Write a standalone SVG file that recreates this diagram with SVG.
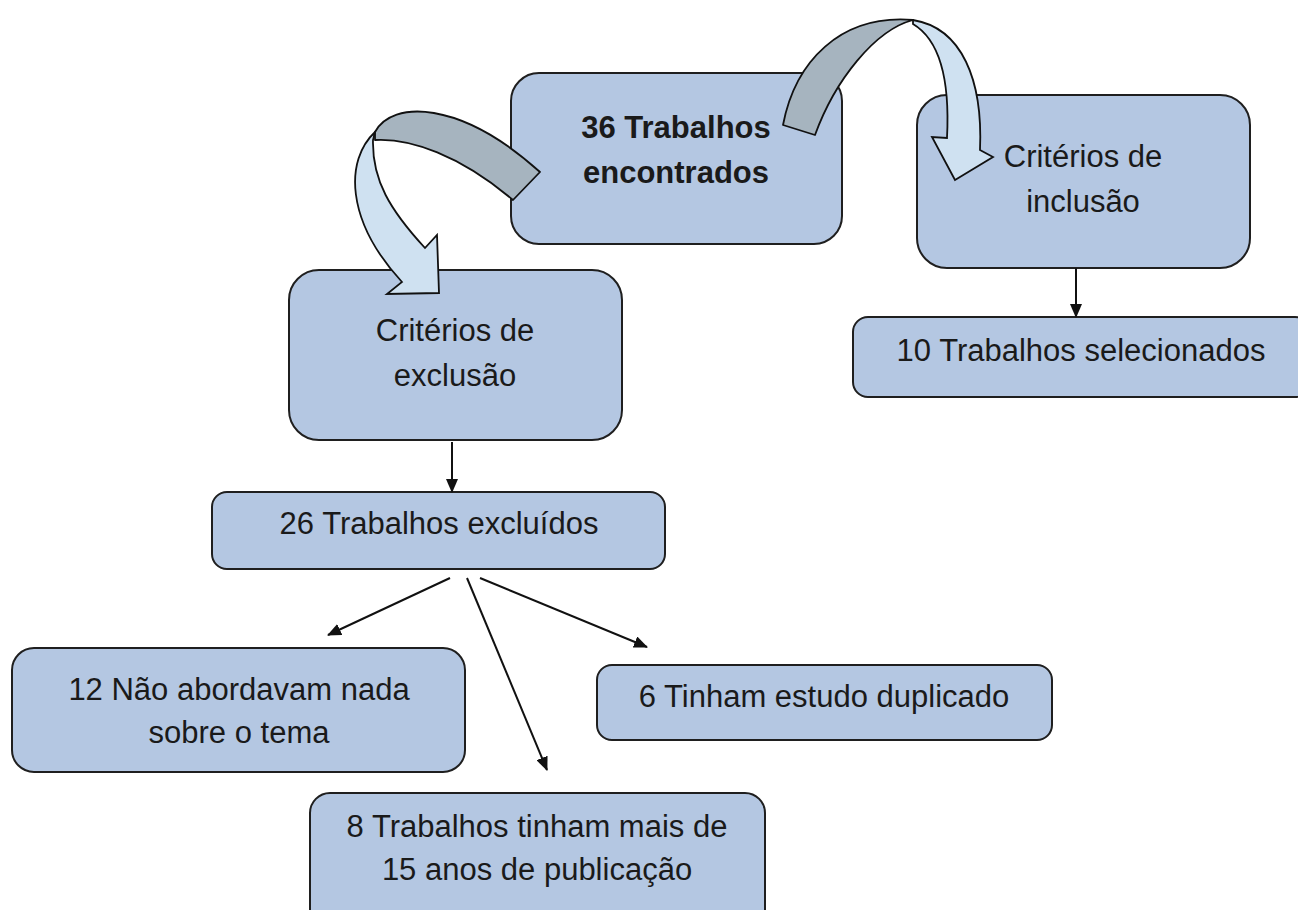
<svg xmlns="http://www.w3.org/2000/svg" width="1298" height="910" viewBox="0 0 1298 910">
<style>
.box{fill:#b4c7e2;stroke:#1f1f1f;stroke-width:2}
.t{font-family:"Liberation Sans",Arial,sans-serif;font-size:31px;fill:#1a1a1a;text-anchor:middle}
.b{font-weight:bold}
.con{stroke:#111;stroke-width:2;fill:none;marker-end:url(#ah)}
.back{fill:#a6b4bf;stroke:#111;stroke-width:1.8;stroke-linejoin:round}
.front{fill:#cfe1f1;stroke:#111;stroke-width:1.8;stroke-linejoin:miter}
</style>
<defs>
<marker id="ah" markerUnits="userSpaceOnUse" markerWidth="14" markerHeight="12" viewBox="0 0 14 12" refX="13" refY="6" orient="auto">
<path d="M0,0 L14,6 L0,12 z" fill="#111"/>
</marker>
</defs>
<rect width="1298" height="910" fill="#ffffff"/>

<g id="n-encontrados">
<rect class="box" x="511" y="73" width="331" height="171" rx="28"/>
<text class="t b" x="676" y="138">36 Trabalhos</text>
<text class="t b" x="676" y="183">encontrados</text>
</g>

<g id="n-inclusao">
<rect class="box" x="917" y="95" width="333" height="173" rx="30"/>
<text class="t" x="1083" y="167">Critérios de</text>
<text class="t" x="1083" y="212">inclusão</text>
</g>

<g id="n-exclusao">
<rect class="box" x="289" y="270" width="333" height="170" rx="30"/>
<text class="t" x="455" y="341">Critérios de</text>
<text class="t" x="455" y="386">exclusão</text>
</g>

<g id="n-selecionados">
<rect class="box" x="853" y="317" width="457" height="80" rx="15"/>
<text class="t" x="1081" y="361">10 Trabalhos selecionados</text>
</g>

<g id="n-excluidos">
<rect class="box" x="212" y="492" width="453" height="77" rx="15"/>
<text class="t" x="439" y="534">26 Trabalhos excluídos</text>
</g>

<g id="n-nada">
<rect class="box" x="12" y="648" width="453" height="124" rx="22"/>
<text class="t" x="239" y="700">12 Não abordavam nada</text>
<text class="t" x="239" y="743">sobre o tema</text>
</g>

<g id="n-duplicado">
<rect class="box" x="597" y="665" width="455" height="75" rx="15"/>
<text class="t" x="824" y="707">6 Tinham estudo duplicado</text>
</g>

<g id="n-quinze">
<rect class="box" x="310" y="793" width="455" height="140" rx="20"/>
<text class="t" x="537" y="837">8 Trabalhos tinham mais de</text>
<text class="t" x="537" y="880">15 anos de publicação</text>
</g>

<g id="connectors">
<path class="back" d="M375,132 C392,100 460,100 540,172 L513,200 C460,155 410,138 375,140 Z"/>
<path class="front" d="M375,132 C345,160 345,220 402,282 L387,294 L439,293 L437,235 L425,248 C390,210 372,180 373,140 Z"/>
<path class="back" d="M783,125 C795,62 840,14 913,20 C875,30 835,80 815,135 Z"/>
<path class="front" d="M913,20 C962,28 983,80 980,150 L993,157 L955,180 L932,137 L947,138 C950,80 940,40 913,24 Z"/>
<path class="con" d="M452,442 L452,492"/>
<path class="con" d="M1076,268 L1076,317"/>
<path class="con" d="M450,578 L328,635"/>
<path class="con" d="M467,578 L547,770"/>
<path class="con" d="M480,578 L647,647"/>
</g>
</svg>
